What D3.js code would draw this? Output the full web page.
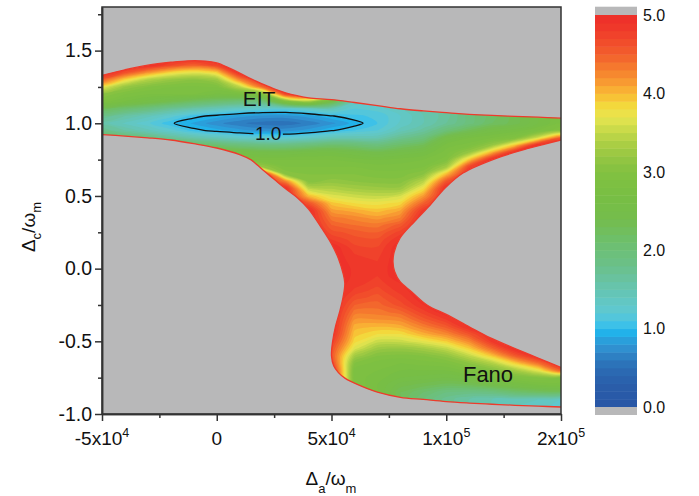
<!DOCTYPE html>
<html>
<head>
<meta charset="utf-8">
<script src="https://cdn.jsdelivr.net/npm/d3@7"></script>
<style>
  body { margin: 0; background: #fff; }
  text { font-family: Arial, "Liberation Sans", sans-serif; fill: #111; }
</style>
</head>
<body>
<div id="chart"></div>
<script>
// sampled field: one column per gridX value, rows follow gridY (top to bottom)
var gridX = [-5e4, -4e4, -3e4, -2e4, -1e4, 0, 1e4, 2e4, 3e4, 4e4, 5e4, 6e4, 7e4,
    8e4, 9e4, 1e5, 1.1e5, 1.2e5, 1.3e5, 1.4e5, 1.5e5];
var gridY = [1.5, 1.45, 1.4, 1.35, 1.3, 1.25, 1.2, 1.15, 1.1, 1.05,
    1, 0.95, 0.9, 0.85, 0.8, 0.75, 0.7, 0.65, 0.6, 0.55,
    0.5, 0.45, 0.4, 0.35, 0.3, 0.25, 0.2, 0.15, 0.1, 0.05,
    0, -0.05, -0.1, -0.15, -0.2, -0.25, -0.3, -0.35, -0.4, -0.45,
    -0.5, -0.55, -0.6, -0.65, -0.7, -0.75, -0.8, -0.85, -0.9, -0.95, -1];
// "v*k" = value v repeated k times
var fieldColumns = [
    '5*4 4.5 3.7 3.1 2.85 2.25 1.78 1.55 1.78 2.25 5*38',
    '5*3 4.65 3.85 3.2 2.9 2.7 2.08 1.6 1.38 1.6 2.08 5*38',
    '5*3 4.2 3.4 3.0 2.8 2.55 1.92 1.44 1.22 1.44 1.92 5*38',
    '5*2 4.7 3.85 3.2 2.9 2.8 2.37 1.72 1.25 1.02 1.25 1.72 2.3 5*37',
    '5*2 4.5 3.7 3.1 2.87 2.8 2.2 1.56 1.05 0.88 1.05 1.56 2.2 5*37',
    '5*2 4.75 3.9 3.25 2.92 2.68 2.08 1.43 0.95 0.73 0.95 1.43 2.08 2.68 5*36',
    '5*4 4.25 3.45 2.75 1.97 1.32 0.84 0.62 0.84 1.32 1.97 2.57 2.8 5*35',
    '5*5 4.45 2.95 1.95 1.25 0.77 0.55 0.77 1.25 1.9 2.5 2.8 3.2 5*34',
    '5*6 4.7 2.9 1.24 0.76 0.54 0.76 1.24 1.89 2.49 2.8 2.9 3.1 4.3 5*32',
    '5*7 3.3 1.33 0.85 0.63 0.85 1.33 1.98 2.58 2.8 2.9 3.0 3.05 3.5 4.0 4.6 5*29',
    '5*6 4.0 2.5 1.45 0.99 0.77 0.99 1.47 2.1 2.6 2.8 2.9 3.0 3.15 3.4 3.65 3.95 4.15 4.35 4.5 4.65 4.8 5*12 4.95 4.8 4.65 4.6 4.75 5*7',
    '5*6 1.5 1.4 1.2 1.08 0.94 1.1 1.5 2.05 2.5 2.75 2.9 3.0 3.1 3.3 3.55 3.8 4.05 4.25 4.4 4.55 4.65 4.72 4.8 4.85 4.88 4.88 4.85 4.78 4.65 4.5 4.35 4.2 4.05 3.95 3.85 3.65 3.3 3.0 2.85 2.85 2.9 2.9 5*3',
    '5*7 1.35 1.25 1.12 1.1 1.2 1.5 1.95 2.4 2.7 2.85 2.95 3.05 3.25 3.5 3.75 3.95 4.15 4.35 4.5 4.62 4.7 4.76 4.8 4.82 4.8 4.75 4.65 4.55 4.45 4.35 4.2 4.0 3.8 3.55 3.25 3.0 2.85 2.8 2.75 2.7 2.75 5*3',
    '5*7 1.45 1.4 1.3 1.32 1.45 1.75 2.15 2.5 2.75 2.85 2.95 3.05 3.25 3.6 3.85 4.1 4.3 4.55 4.75 4.9 5*5 4.9 4.85 4.75 4.65 4.45 4.25 4.05 3.8 3.55 3.2 2.95 2.8 2.7 2.6 2.45 2.3 2.3 5*2',
    '5*8 1.55 1.5 1.5 1.65 1.95 2.3 2.6 2.8 2.9 3.1 3.45 3.8 4.15 4.5 4.85 5*12 4.9 4.75 4.55 4.3 4.05 3.7 3.3 3.0 2.85 2.7 2.55 2.35 2.1 2.0 2.05 5',
    '5*8 1.65 1.65 1.7 2.0 2.5 2.75 2.85 2.95 3.3 4.0 4.6 5*18 4.8 4.55 4.25 3.9 3.5 3.15 2.9 2.7 2.5 2.25 1.9 1.75 1.8 5',
    '5*8 1.95 1.95 1.95 2.3 2.7 2.85 3.2 3.95 4.75 5*21 4.95 4.6 4.25 3.9 3.5 3.1 2.85 2.6 2.3 1.85 1.6 1.6 5',
    '5*8 2.15 2.15 2.2 2.55 2.8 3.2 4.05 5*25 4.85 4.45 3.95 3.4 3.0 2.75 2.45 1.9 1.5 1.5 5',
    '5*8 2.35 2.35 2.35 2.65 2.95 3.95 5*28 4.55 3.9 3.3 2.9 2.6 2.1 1.45 1.4 5',
    '5*8 2.6 2.6 2.6 2.8 3.6 5*30 4.4 3.7 3.0 2.7 2.2 1.4 1.35 5',
    '5*8 2.8 2.8 2.8 3.0 4.55 5*31 4.5 2.9 2.75 2.2 1.3 1.25 5'
];

// edges of the grey (out of range) regions, [x, y]
var topEdge = [[-5e4, 1.33], [-4e4, 1.368], [-3e4, 1.40], [-2e4, 1.42], [-1.25e4, 1.43],
    [-0.5e4, 1.428], [0, 1.415], [0.5e4, 1.383], [1e4, 1.345], [1.5e4, 1.305], [2e4, 1.27],
    [2.5e4, 1.237], [3e4, 1.21], [3.5e4, 1.19], [4e4, 1.175], [5e4, 1.163], [6e4, 1.143],
    [7e4, 1.122], [8e4, 1.10], [9e4, 1.085], [1e5, 1.073], [1.1e5, 1.062], [1.2e5, 1.054],
    [1.3e5, 1.048], [1.4e5, 1.042], [1.5e5, 1.035]];
var lowerEdge = [[-5e4, 0.922], [-4e4, 0.912], [-3e4, 0.90], [-2e4, 0.885], [-1e4, 0.86],
    [0, 0.83], [1e4, 0.785], [1.5e4, 0.748], [2e4, 0.68], [2.5e4, 0.615], [3e4, 0.55],
    [3.5e4, 0.49], [4e4, 0.41], [4.5e4, 0.295], [5e4, 0.17], [5.3e4, 0.07], [5.5e4, -0.03],
    [5.58e4, -0.1], [5.5e4, -0.2], [5.35e4, -0.3], [5.17e4, -0.4], [5.05e4, -0.5], [5.0e4, -0.6],
    [5.1e4, -0.67], [5.3e4, -0.715], [5.6e4, -0.755], [6.1e4, -0.795], [7e4, -0.85],
    [8e4, -0.885], [9e4, -0.90], [1e5, -0.915], [1.1e5, -0.925], [1.2e5, -0.933],
    [1.3e5, -0.94], [1.4e5, -0.946], [1.5e5, -0.952]];
var innerEdge = [[1.5e5, 0.885], [1.365e5, 0.83], [1.221e5, 0.761], [1.073e5, 0.658],
    [9.95e4, 0.555], [9.3e4, 0.438], [8.64e4, 0.328], [7.99e4, 0.211], [7.73e4, 0.114],
    [7.68e4, 0.046], [7.75e4, -0.02], [7.99e4, -0.09], [8.5e4, -0.16], [9.16e4, -0.25],
    [1e5, -0.315], [1.1e5, -0.40], [1.19e5, -0.475], [1.3e5, -0.55], [1.4e5, -0.615],
    [1.5e5, -0.68]];

// colour map stops (value -> colour)
var cmapValues = [0, 0.3, 0.5, 0.65, 0.75, 0.85, 0.95, 1.05, 1.2, 1.4,
    1.6, 1.8, 2.1, 2.4, 2.7, 3.0, 3.2, 3.4, 3.55, 3.7,
    3.85, 4.0, 4.1, 4.2, 4.35, 4.5, 4.7, 4.9, 5.0];
var cmapColors = ['#2856a5', '#2a5eaa', '#2b6cb4', '#2e80c3', '#3090d0', '#2a9fdb', '#22b2ea', '#3dc1e8', '#5ec8d4', '#63c6bd',
    '#68c3a5', '#6ac08a', '#6dbf6e', '#74bd4c', '#78be43', '#82c141', '#96c642', '#b0d045', '#cbdb4a', '#e8e650',
    '#f3d83c', '#f9b833', '#f8a535', '#f7902f', '#f5782e', '#f25f2c', '#f0472b', '#ee332a', '#ee2e2a'];

var yTicks = [-1.0, -0.5, 0.0, 0.5, 1.0, 1.5];
var yMinor = [-0.75, -0.25, 0.25, 0.75, 1.25, 1.75];
var xTicks = [-5e4, 0, 5e4, 1e5, 1.5e5];
var xTickBase = ['-5x10', '0', '5x10', '1x10', '2x10'];
var xTickExp = ['4', '', '4', '5', '5'];
var xMinor = [-2.5e4, 2.5e4, 7.5e4, 1.25e5];
var cbTicks = [0, 1, 2, 3, 4, 5];
var lineLevel = 1.0;
var notes = [{text: 'EIT', x: 1.84e4, y: 1.12, size: 21},
    {text: 'Fano', x: 1.182e5, y: -0.7825, size: 22}];

function drawChart() {
    var width = 699, height = 496;
    var pLeft = 102, pRight = 561, pTop = 7, pBottom = 414;
    var grey = '#b8b8b9';

    var xScale = d3.scaleLinear().domain([-5e4, 1.5e5]).range([pLeft, pRight]);
    var yScale = d3.scaleLinear().domain([-1.0, 1.8]).range([pBottom, pTop]);

    var svg = d3.select('#chart')
        .append('svg')
        .attr('width', width)
        .attr('height', height);

    // expand the column strings into a row-major grid
    var n = gridX.length, m = gridY.length;
    var cols = fieldColumns.map(function (s) {
        var out = [];
        s.trim().split(/\s+/).forEach(function (tok) {
            var p = tok.split('*');
            var k = p.length > 1 ? +p[1] : 1;
            for (var i = 0; i < k; i++) out.push(+p[0]);
        });
        if (out.length !== m) console.error('column length', out.length);
        return out;
    });
    var values = new Array(n * m);
    for (var j = 0; j < m; j++)
        for (var i = 0; i < n; i++)
            values[i + j * n] = cols[i][j];

    var cmap = d3.scaleLinear().domain(cmapValues).range(cmapColors);
    var bandStep = 0.1, bandCount = 50;
    var bandColor = function (k) {
        return cmap((k + 0.5) * bandStep);
    };

    // grid coordinates -> pixels (sample i sits at i + 0.5)
    var gx = d3.scaleLinear().domain([0.5, n - 0.5]).range([xScale(gridX[0]), xScale(gridX[n - 1])]);
    var gy = d3.scaleLinear().domain([0.5, m - 0.5]).range([yScale(gridY[0]), yScale(gridY[m - 1])]);

    // contour rings drawn as smooth closed curves
    var ringLine = d3.line()
        .x(function (p) { return gx(p[0]); })
        .y(function (p) { return gy(p[1]); })
        .curve(d3.curveCatmullRomClosed.alpha(0.5));
    var smoothPath = function (geom) {
        var s = '';
        geom.coordinates.forEach(function (poly) {
            poly.forEach(function (ring) {
                s += ringLine(ring.slice(0, -1));
            });
        });
        return s;
    };

    var thresholds = d3.range(1, bandCount).map(function (k) {
        return k * bandStep;
    });
    var bands = d3.contours().size([n, m]).thresholds(thresholds)(values);

    svg.append('clipPath')
        .attr('id', 'plotClip')
        .append('rect')
        .attr('x', pLeft)
        .attr('y', pTop)
        .attr('width', pRight - pLeft)
        .attr('height', pBottom - pTop);

    var plot = svg.append('g').attr('clip-path', 'url(#plotClip)');

    plot.append('rect')
        .attr('x', pLeft)
        .attr('y', pTop)
        .attr('width', pRight - pLeft)
        .attr('height', pBottom - pTop)
        .attr('fill', bandColor(0));

    plot.selectAll('path.band')
        .data(bands)
        .enter()
        .append('path')
        .attr('class', 'band')
        .attr('d', smoothPath)
        .attr('fill', function (d, i) {
            return bandColor(i + 1);
        });

    // grey regions
    var edgeLine = d3.line()
        .x(function (d) { return xScale(d[0]); })
        .y(function (d) { return yScale(d[1]); })
        .curve(d3.curveCatmullRom.alpha(0.5));

    plot.append('path')
        .attr('d', edgeLine(topEdge) + 'L' + (pRight + 5) + ',' + (pTop - 5) + 'L' + (pLeft - 5) + ',' + (pTop - 5) + 'Z')
        .attr('fill', grey);
    plot.append('path')
        .attr('d', edgeLine(lowerEdge) + 'L' + (pRight + 5) + ',' + (pBottom + 5) + 'L' + (pLeft - 5) + ',' + (pBottom + 5) + 'Z')
        .attr('fill', grey);
    plot.append('path')
        .attr('d', edgeLine(innerEdge) + 'L' + (pRight + 5) + ',' + yScale(innerEdge[innerEdge.length - 1][1]) +
            'L' + (pRight + 5) + ',' + yScale(innerEdge[0][1]) + 'Z')
        .attr('fill', grey);

    [topEdge, lowerEdge, innerEdge].forEach(function (e) {
        plot.append('path')
            .attr('d', edgeLine(e))
            .attr('fill', 'none')
            .attr('stroke', '#ee3a2b')
            .attr('stroke-width', 1.3);
    });

    // contour line at 1.0 with a gap for its label
    var neg = values.map(function (v) { return -v; });
    var ring = d3.contours().size([n, m]).thresholds([-lineLevel])(neg);
    var contourLine = plot.append('path')
        .datum(ring[0])
        .attr('d', smoothPath)
        .attr('fill', 'none')
        .attr('stroke', '#111')
        .attr('stroke-width', 1.3);

    var lineLabel = plot.append('text')
        .attr('x', xScale(2.24e4))
        .attr('y', yScale(0.888))
        .attr('text-anchor', 'middle')
        .style('font-size', '19px')
        .text(lineLevel.toFixed(1));
    var bb = lineLabel.node().getBBox();

    var mask = svg.append('mask').attr('id', 'labelGap');
    mask.append('rect').attr('x', 0).attr('y', 0).attr('width', width).attr('height', height).attr('fill', '#fff');
    mask.append('rect')
        .attr('x', bb.x - 1.5)
        .attr('y', bb.y)
        .attr('width', bb.width + 3)
        .attr('height', bb.height)
        .attr('fill', '#000');
    contourLine.attr('mask', 'url(#labelGap)');

    plot.selectAll('text.note')
        .data(notes)
        .enter()
        .append('text')
        .attr('class', 'note')
        .attr('x', function (d) { return xScale(d.x); })
        .attr('y', function (d) { return yScale(d.y); })
        .attr('text-anchor', 'middle')
        .style('font-size', function (d) { return d.size + 'px'; })
        .text(function (d) { return d.text; });

    // frame and axes
    svg.append('rect')
        .attr('x', pLeft)
        .attr('y', pTop)
        .attr('width', pRight - pLeft)
        .attr('height', pBottom - pTop)
        .attr('fill', 'none')
        .attr('stroke', '#333')
        .attr('stroke-width', 1.5);

    var yAxis = svg.append('g')
        .attr('transform', 'translate(' + pLeft + ',0)')
        .call(d3.axisLeft(yScale).tickValues(yTicks).tickSize(7).tickSizeOuter(0).tickPadding(3)
            .tickFormat(function (d) { return d.toFixed(1); }));
    svg.append('g')
        .attr('transform', 'translate(' + pLeft + ',0)')
        .call(d3.axisLeft(yScale).tickValues(yMinor).tickSize(4).tickSizeOuter(0).tickFormat(''));

    svg.append('g')
        .attr('transform', 'translate(0,' + pBottom + ')')
        .call(d3.axisBottom(xScale).tickValues(xTicks).tickSize(7).tickSizeOuter(0).tickFormat(''));
    svg.append('g')
        .attr('transform', 'translate(0,' + pBottom + ')')
        .call(d3.axisBottom(xScale).tickValues(xMinor).tickSize(4).tickSizeOuter(0).tickFormat(''));

    svg.selectAll('.domain').attr('stroke', '#333').attr('stroke-width', 1.5);
    svg.selectAll('.tick line').attr('stroke', '#333').attr('stroke-width', 1.5);
    yAxis.selectAll('text').style('font-size', '19.5px').attr('fill', '#111');

    var xLabels = svg.selectAll('text.xlab')
        .data(xTicks)
        .enter()
        .append('text')
        .attr('class', 'xlab')
        .attr('x', function (d) { return xScale(d); })
        .attr('y', pBottom + 31)
        .attr('text-anchor', 'middle')
        .style('font-size', '19px');
    xLabels.append('tspan').text(function (d, i) { return xTickBase[i]; });
    xLabels.append('tspan')
        .attr('dy', -8)
        .style('font-size', '12.5px')
        .text(function (d, i) { return xTickExp[i]; });

    // axis titles
    var xTitle = svg.append('text')
        .attr('x', 331)
        .attr('y', 485)
        .attr('text-anchor', 'middle')
        .style('font-size', '19px');
    xTitle.append('tspan').text('\u0394');
    xTitle.append('tspan').attr('dy', 8).style('font-size', '13px').text('a');
    xTitle.append('tspan').attr('dy', -8).text('/\u03c9');
    xTitle.append('tspan').attr('dy', 8).style('font-size', '13px').text('m');

    var yTitle = svg.append('text')
        .attr('transform', 'translate(35,227) rotate(-90)')
        .attr('text-anchor', 'middle')
        .style('font-size', '19px');
    yTitle.append('tspan').text('\u0394');
    yTitle.append('tspan').attr('dy', 6).style('font-size', '13px').text('c');
    yTitle.append('tspan').attr('dy', -6).text('/\u03c9');
    yTitle.append('tspan').attr('dy', 6).style('font-size', '13px').text('m');

    // colour bar
    var cbX = 595, cbW = 42;
    var cbScale = d3.scaleLinear().domain([0, 5]).range([407, 15]);
    var cb = svg.append('g');
    cb.selectAll('rect.cband')
        .data(d3.range(bandCount))
        .enter()
        .append('rect')
        .attr('class', 'cband')
        .attr('x', cbX)
        .attr('width', cbW)
        .attr('y', function (k) { return cbScale((k + 1) * bandStep); })
        .attr('height', function (k) { return cbScale(k * bandStep) - cbScale((k + 1) * bandStep) + 0.5; })
        .attr('fill', function (k) { return bandColor(k); });
    cb.append('rect').attr('x', cbX).attr('width', cbW).attr('y', cbScale(5) - 8.3).attr('height', 8.3).attr('fill', grey);
    cb.append('rect').attr('x', cbX).attr('width', cbW).attr('y', cbScale(0)).attr('height', 8).attr('fill', grey);
    cb.selectAll('text')
        .data(cbTicks)
        .enter()
        .append('text')
        .attr('x', cbX + cbW + 6)
        .attr('y', function (d) { return cbScale(d); })
        .attr('dy', '0.36em')
        .style('font-size', '16px')
        .text(function (d) { return d.toFixed(1); });
}

drawChart();
</script>
</body>
</html>
